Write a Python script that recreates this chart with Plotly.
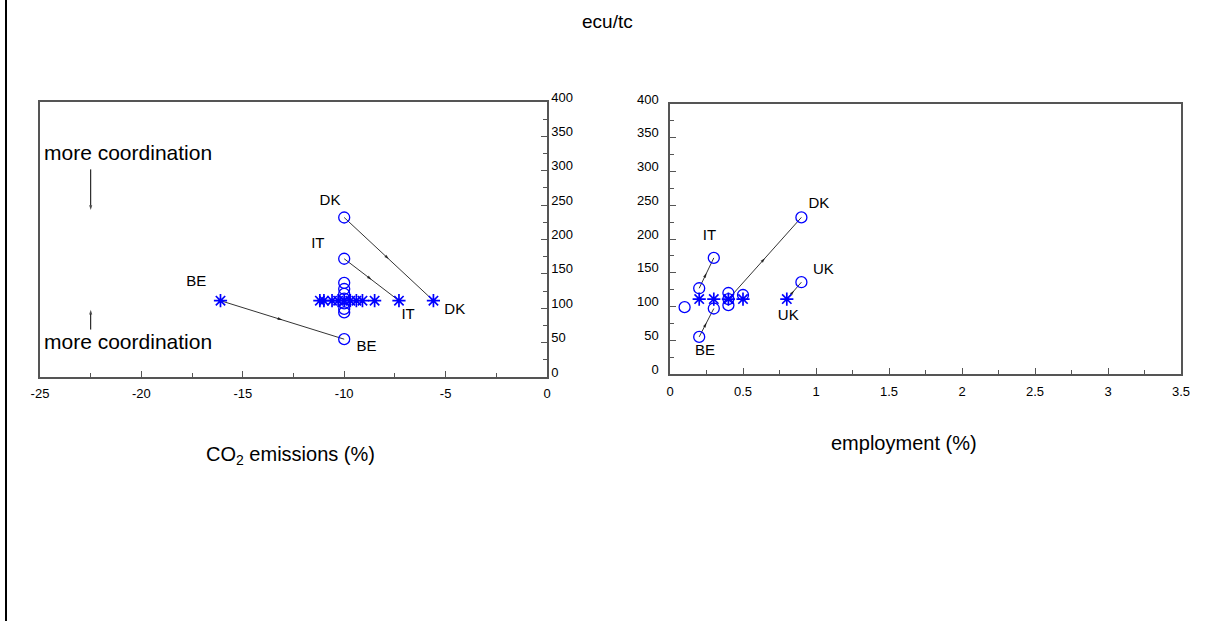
import plotly.graph_objects as go

# ---------------- data ----------------
# Left panel: CO2 emissions (%) vs ecu/tc
left_circle_x = [-10, -10, -10, -10, -10, -10, -10, -10, -10, -10]
left_circle_y = [232, 172, 137, 128, 121, 114, 107, 99, 94, 55]
left_star_x = [-16.1, -11.2, -11.0, -10.6, -10.3, -10.0, -9.7, -9.4, -9.1, -8.5, -7.3, -5.6]
left_star_y = [111, 111, 111, 111, 111, 111, 111, 111, 111, 111, 111, 111]
left_segments = [  # (x0, y0, x1, y1)
    (-16.1, 111, -10, 55),   # BE
    (-10, 172, -7.3, 111),   # IT
    (-10, 232, -5.6, 111),   # DK
]
left_label_text = ["DK", "IT", "BE", "BE", "IT", "DK"]
left_label_x = [-10.7, -11.3, -17.3, -8.9, -6.85, -4.55]
left_label_y = [256, 193, 138, 44, 90, 97]

# "more coordination" indicators (left panel)
coord_text_x = [-24.9, -24.9]
coord_text_y = [327, 52]
coord_arrows = [  # (x0, y0, x1, y1) tail -> head
    (-22.5, 302, -22.5, 243),
    (-22.5, 69, -22.5, 98),
]

# Right panel: employment (%) vs ecu/tc
right_circle_x = [0.1, 0.2, 0.2, 0.3, 0.3, 0.4, 0.4, 0.4, 0.5, 0.9, 0.9]
right_circle_y = [99, 127, 55, 172, 97, 120, 111, 102, 117, 232, 136]
right_star_x = [0.2, 0.3, 0.4, 0.5, 0.8]
right_star_y = [111, 111, 111, 111, 111]
right_segments = [
    (0.2, 127, 0.3, 172),    # IT
    (0.2, 55, 0.3, 97),      # BE
    (0.4, 111, 0.9, 232),    # DK
    (0.8, 111, 0.9, 136),    # UK
]
right_label_text = ["IT", "DK", "UK", "UK", "BE"]
right_label_x = [0.27, 1.02, 1.05, 0.81, 0.24]
right_label_y = [204, 252, 154, 86, 33]

x_left_ticks = [-25, -20, -15, -10, -5, 0]
x_right_ticks = [0, 0.5, 1, 1.5, 2, 2.5, 3, 3.5]
y_ticks = [0, 50, 100, 150, 200, 250, 300, 350, 400]

# ---------------- styles ----------------
FONT = "Arial, Liberation Sans, Helvetica, sans-serif"
BLUE = "#0000ff"
AXC = "#555555"
W, H = 1214, 621

fig = go.Figure()


def add_panel(cx, cy, sx, sy, segs, xa, ya):
    for (x0, y0, x1, y1) in segs:
        mx, my = (x0 + x1) / 2, (y0 + y1) / 2
        fig.add_trace(go.Scatter(
            x=[x0, mx, x1], y=[y0, my, y1], mode="lines+markers",
            line=dict(color="black", width=0.8),
            marker=dict(symbol="arrow", size=[0, 5, 0], color="black",
                        angleref="previous", line=dict(width=0)),
            xaxis=xa, yaxis=ya, showlegend=False, hoverinfo="skip"))
    fig.add_trace(go.Scatter(x=cx, y=cy, mode="markers",
                             marker=dict(symbol="circle-open", size=11, color=BLUE,
                                         line=dict(width=1.3, color=BLUE)),
                             xaxis=xa, yaxis=ya, showlegend=False))
    fig.add_trace(go.Scatter(x=sx, y=sy, mode="markers",
                             marker=dict(symbol="asterisk-open", size=11, color=BLUE,
                                         line=dict(width=1.7, color=BLUE)),
                             xaxis=xa, yaxis=ya, showlegend=False))


add_panel(left_circle_x, left_circle_y, left_star_x, left_star_y, left_segments, "x", "y")
add_panel(right_circle_x, right_circle_y, right_star_x, right_star_y, right_segments, "x2", "y2")

# "more coordination" arrows
for (x0, y0, x1, y1) in coord_arrows:
    fig.add_trace(go.Scatter(
        x=[x0, x1], y=[y0, y1], mode="lines+markers",
        line=dict(color="black", width=1),
        marker=dict(symbol="arrow", size=[0, 5], color="black",
                    angleref="previous", line=dict(width=0)),
        xaxis="x", yaxis="y", showlegend=False, hoverinfo="skip"))

# country labels
fig.add_trace(go.Scatter(x=left_label_x, y=left_label_y, mode="text", text=left_label_text,
                         textfont=dict(family=FONT, size=15, color="black"),
                         xaxis="x", yaxis="y", showlegend=False, hoverinfo="skip"))
fig.add_trace(go.Scatter(x=right_label_x, y=right_label_y, mode="text", text=right_label_text,
                         textfont=dict(family=FONT, size=15, color="black"),
                         xaxis="x2", yaxis="y2", showlegend=False, hoverinfo="skip"))

# "more coordination" texts
for tx, ty in zip(coord_text_x, coord_text_y):
    fig.add_annotation(x=tx, y=ty, xref="x", yref="y", text="more coordination",
                       showarrow=False, xanchor="left", yanchor="middle",
                       font=dict(family=FONT, size=21, color="black"))

# titles
fig.add_annotation(x=607 / W, y=1 - 21 / H, xref="paper", yref="paper", text="ecu/tc",
                   showarrow=False, xanchor="center", yanchor="middle",
                   font=dict(family=FONT, size=19, color="black"))
fig.add_annotation(x=290 / W, y=1 - 455 / H, xref="paper", yref="paper",
                   text="CO<sub>2</sub> emissions (%)", showarrow=False,
                   xanchor="center", yanchor="middle",
                   font=dict(family=FONT, size=20, color="black"))
fig.add_annotation(x=904 / W, y=1 - 443 / H, xref="paper", yref="paper",
                   text="employment (%)", showarrow=False,
                   xanchor="center", yanchor="middle",
                   font=dict(family=FONT, size=20, color="black"))

# left border line of the page
fig.add_shape(type="line", xref="paper", yref="paper", x0=6 / W, x1=6 / W, y0=0, y1=1,
              line=dict(color="black", width=2))

tickfont = dict(family=FONT, size=13, color="black")
common = dict(showgrid=False, zeroline=False, showline=True, linecolor=AXC, linewidth=1.5,
              mirror=True, ticks="inside", ticklen=6, tickcolor=AXC, tickwidth=1,
              tickfont=tickfont, automargin=False)

fig.update_layout(
    width=W, height=H,
    margin=dict(l=0, r=0, t=0, b=0, pad=0, autoexpand=False),
    paper_bgcolor="white", plot_bgcolor="white",
    showlegend=False,
    xaxis=dict(domain=[40 / W, 547 / W], range=[-25, 0], anchor="y",
               tickvals=x_left_ticks, ticktext=[str(v) for v in x_left_ticks],
               ticklabelstandoff=4,
               minor=dict(dtick=2.5, ticks="inside", ticklen=4, tickcolor=AXC),
               **common),
    yaxis=dict(domain=[1 - 377 / H, 1 - 102 / H], range=[0, 400], anchor="x",
               side="right", tickvals=y_ticks, ticktext=[str(v) for v in y_ticks],
               ticklabelshift=-5,
               minor=dict(dtick=25, ticks="inside", ticklen=4, tickcolor=AXC),
               **common),
    xaxis2=dict(domain=[670 / W, 1181 / W], range=[0, 3.5], anchor="y2",
                tickvals=x_right_ticks, ticktext=[str(v) for v in x_right_ticks],
                ticklabelstandoff=5,
                minor=dict(dtick=0.25, ticks="inside", ticklen=4, tickcolor=AXC),
                **common),
    yaxis2=dict(domain=[1 - 374 / H, 1 - 104 / H], range=[0, 400], anchor="x2",
                side="left", tickvals=y_ticks, ticktext=[str(v) for v in y_ticks],
                ticklabelshift=-5, ticklabelstandoff=7,
                minor=dict(dtick=25, ticks="inside", ticklen=4, tickcolor=AXC),
                **common),
)

fig.write_html("out.html")
